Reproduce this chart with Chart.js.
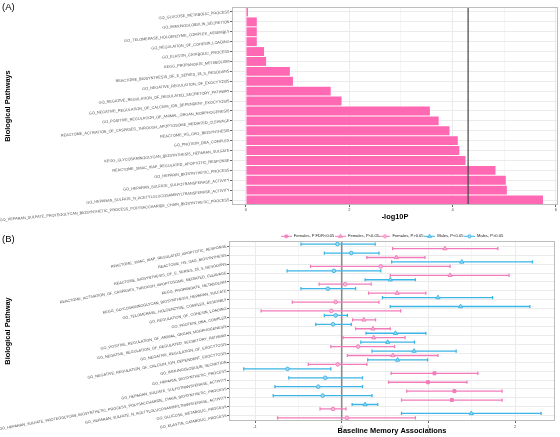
<!DOCTYPE html>
<html>
<head>
<meta charset="utf-8">
<script src="https://cdn.jsdelivr.net/npm/chart.js@4.4.1/dist/chart.umd.min.js"></script>
<style>
  html, body { margin: 0; padding: 0; background: #fff; }
  #wrap { position: relative; width: 560px; height: 437px; overflow: hidden; font-family: 'Liberation Sans', Arial, sans-serif; }
  canvas { position: absolute; left: 0; }
  #chartA { top: 0; }
  #chartB { top: 222px; }
  .tag { position: absolute; left: 2px; font-size: 9.5px; line-height: 1; color: #000; }
</style>
</head>
<body>
<div id="wrap">
  <canvas id="chartA" width="560" height="222"></canvas>
  <canvas id="chartB" width="560" height="215"></canvas>
  <div class="tag" style="top:2px">(A)</div>
  <div class="tag" style="top:234px">(B)</div>
</div>
<script>
// ---- Panel A: pathway enrichment (-log10 P) ----
const pathwaysA = [
    'GO_GLUCOSE_METABOLIC_PROCESS',
    'GO_IMMUNOGLOBULIN_SECRETION',
    'GO_TELOMERASE_HOLOENZYME_COMPLEX_ASSEMBLY',
    'GO_REGULATION_OF_COHESIN_LOADING',
    'GO_ELASTIN_CATABOLIC_PROCESS',
    'KEGG_PROPANOATE_METABOLISM',
    'REACTOME_BIOSYNTHESIS_OF_E_SERIES_18_S_RESOLVINS',
    'GO_NEGATIVE_REGULATION_OF_EXOCYTOSIS',
    'GO_NEGATIVE_REGULATION_OF_REGULATED_SECRETORY_PATHWAY',
    'GO_NEGATIVE_REGULATION_OF_CALCIUM_ION_DEPENDENT_EXOCYTOSIS',
    'GO_POSITIVE_REGULATION_OF_ANIMAL_ORGAN_MORPHOGENESIS',
    'REACTOME_ACTIVATION_OF_CASPASES_THROUGH_APOPTOSOME_MEDIATED_CLEAVAGE',
    'REACTOME_HS_GAG_BIOSYNTHESIS',
    'GO_PROTEIN_DNA_COMPLEX',
    'KEGG_GLYCOSAMINOGLYCAN_BIOSYNTHESIS_HEPARAN_SULFATE',
    'REACTOME_SMAC_XIAP_REGULATED_APOPTOTIC_RESPONSE',
    'GO_HEPARIN_BIOSYNTHETIC_PROCESS',
    'GO_HEPARAN_SULFATE_SULFOTRANSFERASE_ACTIVITY',
    'GO_HEPARAN_SULFATE_N_ACETYLGLUCOSAMINYLTRANSFERASE_ACTIVITY',
    'GO_HEPARAN_SULFATE_PROTEOGLYCAN_BIOSYNTHETIC_PROCESS_POLYSACCHARIDE_CHAIN_BIOSYNTHETIC_PROCESS'
];
const log10P = [0.04, 0.21, 0.21, 0.21, 0.35, 0.39, 0.85, 0.91, 1.64, 1.85,
                3.56, 3.73, 3.94, 4.10, 4.13, 4.25, 4.83, 5.03, 5.05, 5.75];
const cutoffLog10P = 4.30;
const ticksA = [0, 1, 2, 3, 4, 5, 6];

// ---- Panel B: baseline memory associations by sex ----
const pathwaysB = [
    'REACTOME_SMAC_XIAP_REGULATED_APOPTOTIC_RESPONSE',
    'REACTOME_HS_GAG_BIOSYNTHESIS',
    'REACTOME_BIOSYNTHESIS_OF_E_SERIES_18_S_RESOLVINS',
    'REACTOME_ACTIVATION_OF_CASPASES_THROUGH_APOPTOSOME_MEDIATED_CLEAVAGE',
    'KEGG_PROPANOATE_METABOLISM',
    'KEGG_GLYCOSAMINOGLYCAN_BIOSYNTHESIS_HEPARAN_SULFATE',
    'GO_TELOMERASE_HOLOENZYME_COMPLEX_ASSEMBLY',
    'GO_REGULATION_OF_COHESIN_LOADING',
    'GO_PROTEIN_DNA_COMPLEX',
    'GO_POSITIVE_REGULATION_OF_ANIMAL_ORGAN_MORPHOGENESIS',
    'GO_NEGATIVE_REGULATION_OF_REGULATED_SECRETORY_PATHWAY',
    'GO_NEGATIVE_REGULATION_OF_EXOCYTOSIS',
    'GO_NEGATIVE_REGULATION_OF_CALCIUM_ION_DEPENDENT_EXOCYTOSIS',
    'GO_IMMUNOGLOBULIN_SECRETION',
    'GO_HEPARIN_BIOSYNTHETIC_PROCESS',
    'GO_HEPARAN_SULFATE_SULFOTRANSFERASE_ACTIVITY',
    'GO_HEPARAN_SULFATE_PROTEOGLYCAN_BIOSYNTHETIC_PROCESS_POLYSACCHARIDE_CHAIN_BIOSYNTHETIC_PROCESS',
    'GO_HEPARAN_SULFATE_N_ACETYLGLUCOSAMINYLTRANSFERASE_ACTIVITY',
    'GO_GLUCOSE_METABOLIC_PROCESS',
    'GO_ELASTIN_CATABOLIC_PROCESS'
];
const femaleBeta = [1.19, 0.63, 0.45, 1.25, 0.04, 0.64, -0.07, -0.12, 0.255, 0.36,
                    0.37, 0.19, 0.59, -0.046, 1.07, 0.995, 1.30, 1.27, -0.10, 0.06];
const femaleLow = [0.587, 0.29, -0.36, 0.56, -0.26, 0.31, -0.57, -0.93, 0.126, 0.16,
                   0.015, -0.126, 0.065, -0.385, 0.57, 0.54, 0.75, 0.69, -0.25, -0.74];
const femaleHigh = [1.80, 0.96, 1.25, 1.93, 0.34, 0.97, 0.43, 0.68, 0.39, 0.56,
                    0.73, 0.61, 1.11, 0.29, 1.57, 1.445, 1.85, 1.85, 0.05, 0.85];
const femaleSig = ['p', 'p', 'ns', 'p', 'ns', 'p', 'ns', 'ns', 'p', 'p',
                   'p', 'ns', 'p', 'ns', 'fdr', 'fdr', 'fdr', 'fdr', 'ns', 'ns'];
const maleBeta = [-0.05, 0.11, 1.385, -0.09, 0.56, -0.16, 1.11, 1.37, -0.07, -0.10,
                  0.62, 0.53, 0.835, 0.644, -0.626, -0.19, -0.27, -0.22, 0.27, 1.495];
const maleLow = [-0.47, -0.20, 0.576, -0.63, 0.27, -0.47, 0.47, 0.56, -0.20, -0.30,
                 0.28, 0.22, 0.35, 0.30, -1.13, -0.61, -0.77, -0.79, 0.12, 0.69];
const maleHigh = [0.386, 0.43, 2.20, 0.45, 0.85, 0.16, 1.74, 2.17, 0.065, 0.11,
                  0.97, 0.84, 1.32, 0.99, -0.126, 0.24, 0.24, 0.35, 0.415, 2.30];
const maleSig = ['ns', 'ns', 'p', 'ns', 'p', 'ns', 'p', 'p', 'ns', 'ns',
                 'p', 'p', 'p', 'p', 'ns', 'ns', 'ns', 'ns', 'p', 'p'];
const ticksB = [-1, -0.5, 0, 0.5, 1, 1.5, 2];

// dodge: males sit above the row centre, females below
const MALE_SHIFT = -0.25;
const FEMALE_SHIFT = 0.25;

const PINK = '#F27CBA';
const PINK_LIGHT = '#F9BCDB';
const BLUE = '#3DB5E6';
const BLUE_LIGHT = '#A3DBF3';
const TICK_TEXT = '#4d4d4d';
const GRID = '#EBEBEB';
const GRID_MINOR = '#F5F5F5';

Chart.defaults.font.family = "'Liberation Sans', Arial, sans-serif";

const groupsB = [
    { label: 'Females, P FDR<0.05', beta: femaleBeta, sig: femaleSig, cls: 'fdr', shift: FEMALE_SHIFT, color: PINK, fill: PINK, style: 'rect', radius: 2.1 },
    { label: 'Females, P<0.05', beta: femaleBeta, sig: femaleSig, cls: 'p', shift: FEMALE_SHIFT, color: PINK, fill: PINK_LIGHT, style: 'triangle', radius: 2.4 },
    { label: 'Females, P>0.05', beta: femaleBeta, sig: femaleSig, cls: 'ns', shift: FEMALE_SHIFT, color: PINK, fill: PINK_LIGHT, style: 'circle', radius: 1.8 },
    { label: 'Males, P<0.05', beta: maleBeta, sig: maleSig, cls: 'p', shift: MALE_SHIFT, color: BLUE, fill: BLUE_LIGHT, style: 'triangle', radius: 2.4 },
    { label: 'Males, P>0.05', beta: maleBeta, sig: maleSig, cls: 'ns', shift: MALE_SHIFT, color: BLUE, fill: BLUE_LIGHT, style: 'circle', radius: 1.8 }
];

function drawMarker(ctx, style, x, y, r, stroke, fill) {
    ctx.beginPath();
    if (style === 'circle') {
        ctx.arc(x, y, r, 0, Math.PI * 2);
    } else if (style === 'triangle') {
        const dx = r * Math.sin(Math.PI * 2 / 3);
        ctx.moveTo(x, y - r);
        ctx.lineTo(x + dx, y + r / 2);
        ctx.lineTo(x - dx, y + r / 2);
        ctx.closePath();
    } else {
        const s = r * Math.SQRT1_2;
        ctx.rect(x - s, y - s, 2 * s, 2 * s);
    }
    ctx.fillStyle = fill;
    ctx.fill();
    ctx.strokeStyle = stroke;
    ctx.lineWidth = 1;
    ctx.stroke();
}

// legend keys: error bar line with the marker on top
const legendIcons = groupsB.map(g => {
    const c = document.createElement('canvas');
    c.width = 11;
    c.height = 7;
    const k = c.getContext('2d');
    k.strokeStyle = g.color;
    k.lineWidth = 1;
    k.beginPath();
    k.moveTo(0, 3.5);
    k.lineTo(11, 3.5);
    k.stroke();
    drawMarker(k, g.style, 5.5, 3.5, g.radius * 0.9, g.color, g.fill);
    return c;
});

/**
 * Grey frame round the plotting panel
 */
const panelBorder = {
    id: 'panelBorder',
    afterDraw(chart) {
        const { ctx, chartArea: a } = chart;
        ctx.save();
        ctx.strokeStyle = '#BDBDBD';
        ctx.lineWidth = 1;
        ctx.strokeRect(Math.round(a.left) + 0.5, Math.round(a.top) + 0.5,
            Math.round(a.right - a.left) - 1, Math.round(a.bottom - a.top) - 1);
        ctx.restore();
    }
};

// significance threshold on panel A
const cutoffLine = {
    id: 'cutoffLine',
    afterDatasetsDraw(chart) {
        const { ctx, chartArea: a, scales: { x } } = chart;
        const px = x.getPixelForValue(cutoffLog10P);
        ctx.save();
        ctx.strokeStyle = '#444';
        ctx.lineWidth = 1.2;
        ctx.beginPath();
        ctx.moveTo(px, a.top);
        ctx.lineTo(px, a.bottom);
        ctx.stroke();
        ctx.restore();
    }
};

// zero line + horizontal 95% CI bars for panel B
const errorBars = {
    id: 'errorBars',
    beforeDatasetsDraw(chart) {
        const { ctx, chartArea: a, scales: { x, y } } = chart;
        ctx.save();
        const zx = x.getPixelForValue(0);
        ctx.strokeStyle = '#8a8a8a';
        ctx.lineWidth = 1.6;
        ctx.beginPath();
        ctx.moveTo(zx, a.top);
        ctx.lineTo(zx, a.bottom);
        ctx.stroke();

        const cap = 1.6;
        const bar = (lo, hi, pos, color) => {
            const x1 = x.getPixelForValue(lo);
            const x2 = x.getPixelForValue(hi);
            const py = y.getPixelForValue(pos);
            ctx.strokeStyle = color;
            ctx.lineWidth = 1.3;
            ctx.beginPath();
            ctx.moveTo(x1, py);
            ctx.lineTo(x2, py);
            ctx.moveTo(x1, py - cap);
            ctx.lineTo(x1, py + cap);
            ctx.moveTo(x2, py - cap);
            ctx.lineTo(x2, py + cap);
            ctx.stroke();
        };
        pathwaysB.forEach((_, i) => {
            bar(maleLow[i], maleHigh[i], i + MALE_SHIFT, BLUE);
            bar(femaleLow[i], femaleHigh[i], i + FEMALE_SHIFT, PINK);
        });
        ctx.restore();
    }
};

// centre the legend over the panel, just above it (as ggplot does)
const legendOverPanel = {
    id: 'legendOverPanel',
    afterLayout(chart) {
        const lg = chart.legend;
        const a = chart.chartArea;
        lg.left = a.left;
        lg.right = a.right;
        lg.top = a.top - 4.7 - 0.5 - 2.05;
    }
};

const tickFont = { size: 3.8 };
const titleFont = { size: 7.4, weight: 'bold' };

// 1. Panel A (horizontal bars)
new Chart(document.getElementById('chartA'), {
    type: 'bar',
    data: {
        labels: pathwaysA,
        datasets: [{
            data: log10P,
            backgroundColor: '#FF69B4',
            borderWidth: 0,
            categoryPercentage: 0.9,
            barPercentage: 1
        }]
    },
    options: {
        indexAxis: 'y',
        responsive: false,
        animation: false,
        devicePixelRatio: 1,
        layout: { padding: { top: 7, right: 2, left: 0, bottom: 0 } },
        plugins: { legend: { display: false }, tooltip: { enabled: false } },
        scales: {
            x: {
                type: 'linear',
                min: -0.27,
                max: 6.04,
                afterBuildTicks: s => { s.ticks = ticksA.map(v => ({ value: v })); },
                afterFit: s => { s.height = 17; },
                ticks: {
                    font: { size: 4 },
                    color: TICK_TEXT,
                    padding: 0,
                    maxRotation: 0,
                    callback: v => (v % 2 === 0 ? String(v) : '')
                },
                grid: {
                    color: c => (c.tick && c.tick.value % 2 === 0 ? GRID : GRID_MINOR),
                    tickColor: c => (c.tick && c.tick.value % 2 === 0 ? '#666' : 'rgba(0,0,0,0)'),
                    tickLength: 2
                },
                border: { display: false },
                title: { display: true, text: '-log10P', font: titleFont, color: '#000', padding: { top: 0, bottom: 1 } }
            },
            y: {
                afterFit: s => { s.width = 232; },
                ticks: {
                    autoSkip: false,
                    minRotation: 5,
                    maxRotation: 5,
                    font: tickFont,
                    color: TICK_TEXT,
                    padding: 0.5
                },
                grid: { offset: false, color: GRID, tickColor: '#666', tickLength: 2 },
                border: { display: false },
                title: { display: true, text: 'Biological Pathways', font: titleFont, color: '#000', padding: { top: 3.5, bottom: 0 } }
            }
        }
    },
    plugins: [cutoffLine, panelBorder]
});

// 2. Panel B (dot + CI plot)
new Chart(document.getElementById('chartB'), {
    type: 'scatter',
    data: {
        datasets: groupsB.map(g => ({
            label: g.label,
            data: g.beta.map((b, i) => (g.sig[i] === g.cls ? { x: b, y: i + g.shift } : null)).filter(p => p),
            pointStyle: g.style,
            pointRadius: g.radius,
            pointBackgroundColor: g.fill,
            pointBorderColor: g.color,
            pointBorderWidth: 1,
            backgroundColor: g.fill,
            borderColor: g.color
        }))
    },
    options: {
        responsive: false,
        animation: false,
        devicePixelRatio: 1,
        layout: { padding: { top: 4.4, right: 3, left: 0, bottom: 0 } },
        plugins: {
            tooltip: { enabled: false },
            legend: {
                position: 'top',
                labels: {
                    usePointStyle: true,
                    pointStyleWidth: 11,
                    padding: 0.5,
                    color: '#222',
                    font: { size: 4.1 },
                    generateLabels: chart => Chart.defaults.plugins.legend.labels.generateLabels(chart)
                        .map((item, i) => ({ ...item, pointStyle: legendIcons[i] }))
                }
            }
        },
        scales: {
            x: {
                type: 'linear',
                min: -1.30,
                max: 2.46,
                afterBuildTicks: s => { s.ticks = ticksB.map(v => ({ value: v })); },
                afterFit: s => { s.height = 16; },
                ticks: {
                    font: { size: 4 },
                    color: TICK_TEXT,
                    padding: 1.5,
                    maxRotation: 0,
                    callback: v => (Number.isInteger(v) ? String(v) : '')
                },
                grid: {
                    color: c => (c.tick && Number.isInteger(c.tick.value) ? GRID : GRID_MINOR),
                    tickColor: c => (c.tick && Number.isInteger(c.tick.value) ? '#666' : 'rgba(0,0,0,0)'),
                    tickLength: 2
                },
                border: { display: false },
                title: { display: true, text: 'Baseline Memory Associations', font: titleFont, color: '#000', padding: { top: 0, bottom: 1.5 } }
            },
            y: {
                type: 'linear',
                reverse: true,
                min: -0.6,
                max: pathwaysB.length - 0.4,
                afterBuildTicks: s => { s.ticks = pathwaysB.map((_, i) => ({ value: i })); },
                afterFit: s => { s.width = 229; },
                ticks: {
                    autoSkip: false,
                    minRotation: 10,
                    maxRotation: 10,
                    font: tickFont,
                    color: TICK_TEXT,
                    padding: 0.5,
                    callback: v => pathwaysB[v]
                },
                grid: { color: GRID, tickColor: '#666', tickLength: 2 },
                border: { display: false },
                title: { display: true, text: 'Biological Pathway', font: titleFont, color: '#000', padding: { top: 3.5, bottom: 0 } }
            }
        }
    },
    plugins: [errorBars, legendOverPanel, panelBorder]
});
</script>
</body>
</html>
